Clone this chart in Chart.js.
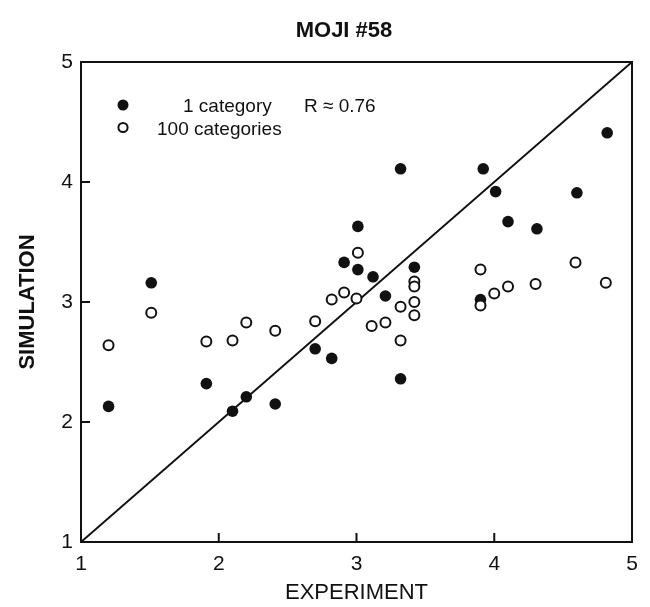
<!DOCTYPE html>
<html>
<head>
<meta charset="utf-8">
<script src="https://cdn.jsdelivr.net/npm/chart.js@4/dist/chart.umd.min.js"></script>
<style>
  html, body { margin: 0; padding: 0; background: #fff; }
  #wrap { width: 650px; height: 607px; }
</style>
</head>
<body>
<div id="wrap"><canvas id="c" width="650" height="607"></canvas></div>
<script>
// ---- text ----
const chartTitle = 'MOJI #58';
const xTitle = 'EXPERIMENT';
const yTitle = 'SIMULATION';
const legendLabels = ['1 category', '100 categories'];
const corrLabel = 'R \u2248 0.76';

// ---- axis range / ticks ----
const axisMin = 1;
const axisMax = 5;
const tickValues = [1, 2, 3, 4, 5];

// ---- 1 category (filled) ----
const oneCatX = [1.20, 1.51, 1.91, 2.10, 2.20, 2.41, 2.70, 2.82, 2.91, 3.01, 3.01, 3.12,
                 3.21, 3.32, 3.32, 3.42, 3.90, 3.92, 4.01, 4.10, 4.31, 4.60, 4.82];
const oneCatY = [2.13, 3.16, 2.32, 2.09, 2.21, 2.15, 2.61, 2.53, 3.33, 3.27, 3.63, 3.21,
                 3.05, 4.11, 2.36, 3.29, 3.02, 4.11, 3.92, 3.67, 3.61, 3.91, 4.41];

// ---- 100 categories (open) ----
const hundredCatX = [1.20, 1.51, 1.91, 2.10, 2.20, 2.41, 2.70, 2.82, 2.91, 3.00, 3.01, 3.11, 3.21,
                     3.32, 3.32, 3.42, 3.42, 3.42, 3.42, 3.90, 3.90, 4.00, 4.10, 4.30, 4.59, 4.81];
const hundredCatY = [2.64, 2.91, 2.67, 2.68, 2.83, 2.76, 2.84, 3.02, 3.08, 3.03, 3.41, 2.80, 2.83,
                     2.96, 2.68, 3.17, 3.13, 3.00, 2.89, 3.27, 2.97, 3.07, 3.13, 3.15, 3.33, 3.16];

// ---- identity line ----
const identityLine = [1, 5];

const pairs = (xs, ys) => xs.map((x, i) => ({ x: x, y: ys[i] }));

const FONT = '"Liberation Sans", Arial, Helvetica, sans-serif';
const INK = '#111';

// Frame box, inward tick marks, legend and heading
const paperPlugin = {
  id: 'paper',
  beforeDatasetsDraw(chart) {
    const { ctx, chartArea: a, scales: { x, y } } = chart;
    ctx.save();
    ctx.strokeStyle = INK;
    ctx.lineWidth = 2;
    ctx.strokeRect(a.left, a.top, a.right - a.left, a.bottom - a.top);
    ctx.beginPath();
    tickValues.forEach(v => {
      const px = x.getPixelForValue(v);
      ctx.moveTo(px, a.bottom);
      ctx.lineTo(px, a.bottom - 9);
      const py = y.getPixelForValue(v);
      ctx.moveTo(a.left, py);
      ctx.lineTo(a.left + 9, py);
    });
    ctx.stroke();
    ctx.restore();
  },
  afterDraw(chart) {
    const { ctx } = chart;
    ctx.save();
    ctx.fillStyle = INK;
    ctx.strokeStyle = INK;

    // heading
    ctx.font = 'bold 22px ' + FONT;
    ctx.textAlign = 'center';
    ctx.textBaseline = 'middle';
    ctx.fillText(chartTitle, 344, 31);

    // legend markers
    ctx.beginPath();
    ctx.arc(123, 105, 5.5, 0, Math.PI * 2);
    ctx.fill();
    ctx.beginPath();
    ctx.lineWidth = 2;
    ctx.arc(123, 127.5, 4.6, 0, Math.PI * 2);
    ctx.stroke();

    // legend text
    ctx.font = '19px ' + FONT;
    ctx.textAlign = 'left';
    ctx.textBaseline = 'alphabetic';
    ctx.fillText(legendLabels[0], 183, 112);
    ctx.fillText(legendLabels[1], 157, 135);
    ctx.fillText(corrLabel, 304, 112);
    ctx.restore();
  }
};

new Chart(document.getElementById('c'), {
  type: 'scatter',
  data: {
    datasets: [
      {
        label: legendLabels[1],
        data: pairs(hundredCatX, hundredCatY),
        pointRadius: 5,
        pointHoverRadius: 5,
        pointBackgroundColor: '#fff',
        pointBorderColor: INK,
        pointBorderWidth: 2,
        order: 0
      },
      {
        label: legendLabels[0],
        data: pairs(oneCatX, oneCatY),
        pointRadius: 5.8,
        pointHoverRadius: 5.8,
        pointBackgroundColor: INK,
        pointBorderColor: INK,
        pointBorderWidth: 0,
        order: 1
      },
      {
        type: 'line',
        label: 'identity',
        data: pairs(identityLine, identityLine),
        borderColor: INK,
        borderWidth: 2,
        pointRadius: 0,
        fill: false,
        order: 2
      }
    ]
  },
  options: {
    responsive: false,
    animation: false,
    devicePixelRatio: 1,
    layout: { padding: { top: 62, right: 18, left: 0, bottom: 0 } },
    plugins: {
      legend: { display: false },
      title: { display: false },
      tooltip: { enabled: false }
    },
    scales: {
      x: {
        type: 'linear',
        min: axisMin,
        max: axisMax,
        afterBuildTicks: s => { s.ticks = tickValues.map(v => ({ value: v })); },
        afterFit: s => { s.height = 65; },
        grid: { display: false, drawTicks: false },
        border: { display: true, color: INK, width: 2 },
        ticks: {
          padding: 10,
          color: INK,
          font: { family: FONT, size: 21 }
        },
        title: {
          display: true,
          text: xTitle,
          color: INK,
          padding: { top: 0, bottom: 1 },
          font: { family: FONT, size: 22 }
        }
      },
      y: {
        type: 'linear',
        min: axisMin,
        max: axisMax,
        afterBuildTicks: s => { s.ticks = tickValues.map(v => ({ value: v })); },
        afterFit: s => { s.width = 81; },
        grid: { display: false, drawTicks: false },
        border: { display: true, color: INK, width: 2 },
        ticks: {
          padding: 8,
          color: INK,
          font: { family: FONT, size: 21 }
        },
        title: {
          display: true,
          text: yTitle,
          color: INK,
          padding: { top: 15, bottom: 0 },
          font: { family: FONT, size: 22, weight: 'bold' }
        }
      }
    }
  },
  plugins: [paperPlugin]
});
</script>
</body>
</html>
